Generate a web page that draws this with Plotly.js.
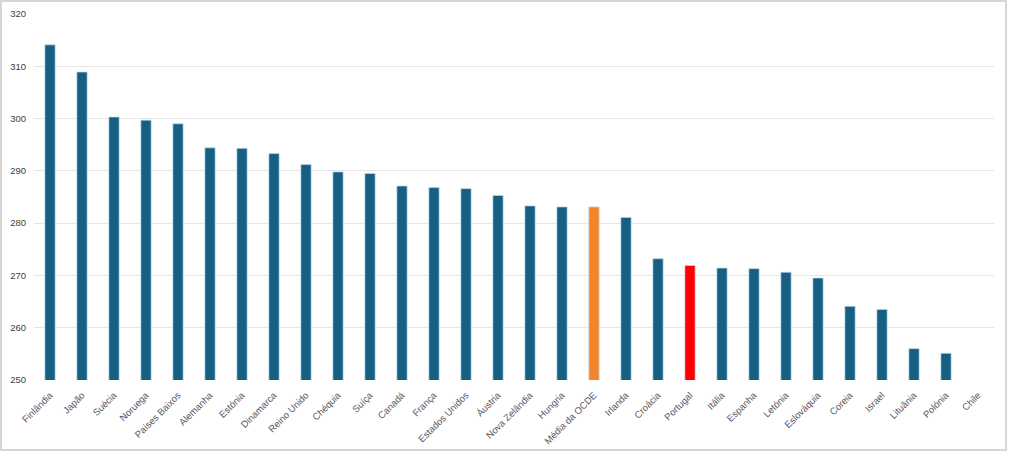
<!DOCTYPE html>
<html>
<head>
<meta charset="utf-8">
<script src="https://cdn.plot.ly/plotly-3.0.1.min.js"></script>
<style>
  body { margin: 0; background: #fff; }
  #graph { position: absolute; left: 0; top: 0; width: 1010px; height: 454px; }
  #frame { position: absolute; left: 0; top: 0; width: 1007px; height: 451px;
           border: 2px solid #d6d6d6; box-sizing: border-box; pointer-events: none; }
</style>
</head>
<body>
<div id="graph"></div>
<div id="frame"></div>
<script>
var countries = [
    'Finlândia', 'Japão', 'Suécia', 'Noruega', 'Países Baixos', 'Alemanha',
    'Estónia', 'Dinamarca', 'Reino Unido', 'Chéquia', 'Suíça', 'Canadá',
    'França', 'Estados Unidos', 'Áustria', 'Nova Zelândia', 'Hungria',
    'Média da OCDE', 'Irlanda', 'Croácia', 'Portugal', 'Itália', 'Espanha',
    'Letónia', 'Eslováquia', 'Coreia', 'Israel', 'Lituânia', 'Polónia', 'Chile'
];
var scores = [
    314.1, 308.9, 300.3, 299.7, 299.0, 294.4,
    294.3, 293.3, 291.2, 289.8, 289.5, 287.1,
    286.8, 286.6, 285.3, 283.3, 283.1,
    283.1, 281.1, 273.2, 271.9, 271.4, 271.3,
    270.6, 269.5, 264.1, 263.5, 256.0, 255.1, 247.0
];
var yTicks = [250, 260, 270, 280, 290, 300, 310, 320];

// highlight colours for the OECD average and Portugal
var barColors = countries.map(function(c) {
    if (c === 'Média da OCDE') return '#f5852a';
    if (c === 'Portugal') return '#ff0000';
    return '#155f82';
});

var trace = {
    x: countries,
    y: scores,
    type: 'bar',
    marker: {
        color: barColors,
        line: { color: 'rgba(190,215,228,0.9)', width: 0.8 }
    },
    hoverinfo: 'none'
};

var layout = {
    width: 1010,
    height: 454,
    showlegend: false,
    bargap: 0.68,
    margin: { l: 34, r: 16, t: 14, b: 74 },
    paper_bgcolor: '#ffffff',
    plot_bgcolor: '#ffffff',
    font: { family: 'Liberation Sans, Arial, sans-serif', size: 9.5, color: '#595959' },
    xaxis: {
        type: 'category',
        tickangle: -45,
        showgrid: false,
        zeroline: false,
        showline: false,
        ticks: 'outside',
        ticklen: 5,
        tickcolor: 'rgba(0,0,0,0)',
        tickfont: { size: 9.5, color: '#595959' }
    },
    yaxis: {
        range: [250, 320],
        autorange: false,
        tickvals: yTicks,
        showgrid: true,
        gridcolor: '#e6e6e6',
        gridwidth: 1,
        zeroline: false,
        showline: false,
        ticks: 'outside',
        ticklen: 5,
        tickcolor: 'rgba(0,0,0,0)',
        tickfont: { size: 9.5, color: '#404040' }
    }
};

var graph = document.getElementById('graph');
Plotly.newPlot(graph, [trace], layout, { staticPlot: true });
</script>
</body>
</html>
